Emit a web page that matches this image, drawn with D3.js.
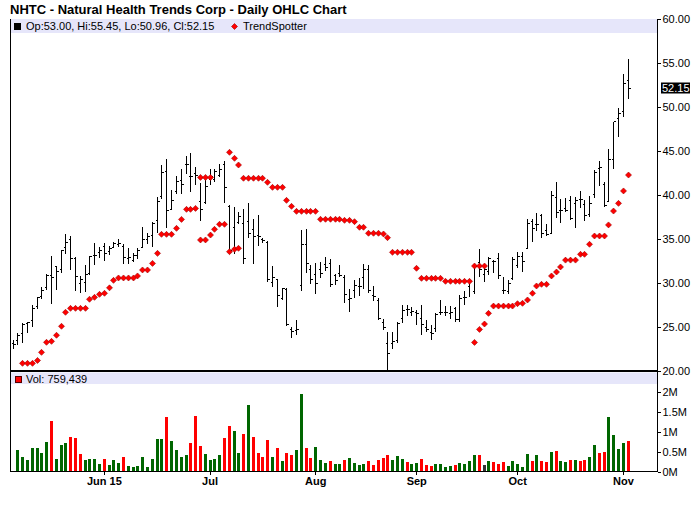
<!DOCTYPE html>
<html>
<head>
<meta charset="utf-8">
<script src="https://cdn.jsdelivr.net/npm/d3@7"></script>
<style>
	body { margin: 0; background: #fff; }
	text { font-family: "Liberation Sans", Arial, sans-serif; }
</style>
</head>
<body>
<svg id="chart" width="700" height="512"></svg>
<script>
'use strict'

const _ = null

// one entry per trading day, May 4 2015 .. Nov 3 2015
const opens = [
	23.07, 23.45, 24.3, 25.4, 25.7, 27.3, 28.5, 29.47, 30.9, 31.86,
	31.55, 34.06, 34.96, 32.8, 29.96, 30.04, 31.1, 33.07, 33.5, 34.13,
	33.56, 34.05, 34.32, 34.13, 32.8, 32.6, 33.18, 34.05, 34.96, 35.45,
	37.05, 39.81, 42.65, 38.37, 40.38, 41.7, 43.52, 42.08, 42.39, 39.24,
	39.13, 41.8, 41.78, 42.16, 43.41, 38.67, 36.3, 36.86, 36.78, 36.97,
	36.1, 35.45, 34.89, 34.6, 30.04, 30.42, 28.26, 29.28, 24.66, 24.58,
	29.66, 34.43, 31.5, 31.0, 31.5, 32.05, 32.2, 30.8, 31.1, 30.6,
	28.1, 29.2, 29.6, 30.6, 31.5, 28.6, 28.0, 25.5, 23.07, 23.1,
	23.5, 26.0, 27.0, 26.6, 26.6, 26.0, 25.0, 24.4, 24.8, 26.7,
	26.7, 26.5, 27.1, 25.8, 28.3, 29.6, 29.0, 32.3, 31.0, 31.3,
	32.4, 32.8, 29.2, 29.0, 30.5, 32.0, 33.0, 33.9, 37.0, 36.6,
	37.7, 36.0, 35.6, 39.7, 38.2, 38.5, 39.4, 39.0, 39.5, 38.9,
	37.8, 40.1, 43.0, 41.2, 39.3, 44.0, 48.7, 49.5, 53.0
]
const highs = [
	23.5, 24.3, 25.4, 25.57, 27.5, 28.45, 29.5, 31.0, 33.07, 31.93,
	33.75, 35.53, 35.34, 32.9, 30.84, 32.05, 33.11, 34.58, 34.13, 34.5,
	34.2, 34.62, 35.0, 34.43, 33.94, 33.45, 33.94, 36.33, 35.64, 36.97,
	39.81, 43.41, 44.05, 40.57, 42.16, 42.92, 44.43, 44.73, 43.22, 41.4,
	42.08, 43.0, 42.92, 43.52, 43.9, 38.9, 38.67, 38.1, 38.4, 39.13,
	37.23, 37.73, 35.08, 34.8, 31.93, 30.42, 29.47, 29.47, 25.04, 25.8,
	36.02, 36.1, 32.05, 32.24, 32.43, 32.9, 32.7, 31.0, 32.05, 30.9,
	29.28, 30.3, 30.53, 32.16, 32.05, 29.66, 28.26, 25.87, 24.47, 24.47,
	25.6, 27.5, 27.5, 27.3, 26.9, 27.5, 25.8, 25.2, 26.55, 28.06,
	27.4, 27.4, 27.3, 28.6, 29.1, 30.5, 32.2, 33.9, 32.0, 33.0,
	32.6, 33.4, 30.7, 30.3, 32.9, 33.5, 33.5, 37.3, 37.3, 37.9,
	37.8, 36.7, 40.4, 41.5, 39.6, 39.7, 39.9, 39.8, 40.4, 39.4,
	39.9, 42.8, 43.9, 41.5, 45.2, 48.3, 49.9, 53.8, 55.45
]
const lows = [
	22.5, 22.96, 23.2, 24.36, 24.96, 27.05, 28.15, 29.2, 27.58, 29.2,
	31.18, 33.3, 31.48, 29.13, 28.83, 29.0, 30.91, 32.05, 32.8, 32.5,
	33.18, 33.94, 34.05, 32.16, 32.16, 32.42, 32.69, 33.94, 34.43, 34.05,
	35.72, 39.51, 36.21, 38.3, 40.11, 40.11, 42.35, 40.38, 41.14, 37.08,
	38.98, 41.1, 41.52, 42.01, 39.05, 33.37, 33.26, 36.7, 32.16, 35.08,
	32.16, 34.2, 34.58, 30.1, 29.58, 27.31, 28.07, 25.11, 23.71, 24.09,
	29.13, 31.1, 29.9, 28.75, 30.53, 31.4, 29.6, 29.8, 30.72, 27.77,
	26.74, 28.26, 28.52, 29.36, 28.83, 28.0, 25.8, 24.66, 20.0, 22.46,
	23.2, 25.5, 26.2, 26.2, 25.2, 24.1, 24.47, 23.5, 24.47, 26.36,
	26.2, 25.9, 25.6, 25.6, 27.5, 28.4, 28.8, 30.7, 30.1, 30.9,
	31.1, 30.5, 28.7, 28.7, 30.3, 31.7, 31.2, 33.9, 34.7, 35.9,
	35.1, 35.3, 35.6, 37.4, 36.8, 38.1, 37.2, 36.2, 38.5, 37.0,
	37.5, 39.7, 41.0, 38.6, 39.3, 43.0, 46.6, 48.9, 50.96
]
const closes = [
	22.96, 23.98, 25.34, 25.5, 27.05, 28.3, 29.2, 30.9, 30.65, 31.29,
	33.64, 34.62, 32.8, 30.72, 30.42, 30.91, 32.99, 33.11, 33.75, 33.3,
	33.94, 34.5, 34.5, 32.92, 32.92, 33.07, 33.64, 34.96, 35.27, 36.78,
	39.24, 42.58, 38.22, 39.43, 41.52, 41.25, 43.52, 42.08, 42.27, 38.37,
	40.95, 42.1, 42.65, 42.92, 40.87, 33.75, 33.9, 37.6, 32.8, 35.64,
	35.27, 35.27, 34.81, 30.4, 30.65, 28.56, 29.32, 25.34, 24.47, 24.73,
	34.39, 32.16, 30.4, 29.96, 31.1, 31.8, 29.8, 30.3, 30.9, 28.75,
	28.2, 29.77, 29.6, 31.5, 29.2, 28.5, 26.0, 24.96, 22.0, 23.3,
	25.4, 26.9, 27.0, 26.8, 26.5, 25.3, 24.7, 24.3, 26.4, 26.7,
	26.6, 26.6, 25.9, 28.2, 28.4, 30.2, 31.9, 31.5, 31.5, 32.8,
	32.4, 30.8, 29.2, 29.9, 32.7, 33.0, 32.4, 36.8, 36.2, 36.6,
	35.6, 35.5, 40.0, 38.0, 38.2, 38.2, 37.3, 39.4, 39.5, 37.7,
	39.0, 42.6, 43.1, 38.8, 44.0, 48.3, 49.3, 52.7, 52.15
]

// volume in thousands of shares
const volumes = [
	_, 542, 367, 292, 592, 592, 467, 742, 1267, 317,
	667, 717, 867, 842, 442, 292, 317, 317, 192, 317,
	167, 292, 217, 367, 142, 117, 142, 367, 117, 317,
	817, 817, 1367, 767, 542, 367, 417, 717, 1392, 642,
	442, 292, 317, 417, 842, 1142, 1017, 467, 942, 1667,
	867, 467, 367, 792, 367, 592, 267, 467, 417, 542,
	1942, 592, 342, 617, 292, 217, 267, 192, 192, 292,
	342, 217, 167, 192, 267, 167, 292, 342, 417, 292,
	392, 317, 242, 192, 217, 317, 167, 142, 192, 192,
	117, 142, 167, 217, 192, 267, 417, 417, 167, 267,
	242, 192, 242, 142, 267, 192, 117, 442, 267, 417,
	267, 242, 492, 517, 267, 242, 292, 292, 267, 292,
	367, 667, 467, 492, 1367, 917, 567, 717, 759.439
]
// u = up day, d = down day, n = unchanged
const volumeDirection = (
	'uuuuuuuudu' + 'uuddduuuud' + 'uuuduuuuuu' + 'uuduuuuddd' + 'uuuudduudu' +
	'ddddududdu' + 'udduuuduud' + 'uuuudddddu' + 'uuduuddduu' + 'uuduuuudnu' +
	'ddduuuuudu' + 'dduduududd' + 'uudduuuud'
).split('')

// TrendSpotter stops, below and above price
const trendBelow = [
	_, _, 20.87, 20.87, 20.87, 21.2, 22.12, 23.26, 23.37, 24.06,
	25.08, 26.67, 27.12, 27.12, 27.12, 27.12, 28.15, 28.37, 28.71, 28.83,
	29.45, 30.3, 30.57, 30.57, 30.57, 30.57, 30.8, 31.48, 31.48, 32.23,
	33.37, 35.53, 35.53, 35.53, 36.21, 37.23, 38.37, 38.37, 38.48, 34.89,
	34.89, 35.45, 36.1, 36.67, 36.67, 33.56, 33.83, 33.94, _, _,
	_, _, _, _, _, _, _, _, _, _,
	_, _, _, _, _, _, _, _, _, _,
	_, _, _, _, _, _, _, _, _, _,
	_, _, _, _, _, _, _, _, _, _,
	_, _, _, _, _, _, 23.25, 24.73, 25.34, 26.55,
	27.38, 27.38, 27.38, 27.38, 27.38, 27.65, 27.69, 28.07, 28.83, 29.66,
	29.85, 29.85, 30.8, 31.25, 31.82, 32.6, 32.6, 32.6, 33.26, 33.26,
	34.4, 35.34, 35.34, 35.34, 36.6, 38.18, 39.05, 40.46, 42.27
]
const trendAbove = [
	_, _, _, _, _, _, _, _, _, _,
	_, _, _, _, _, _, _, _, _, _,
	_, _, _, _, _, _, _, _, _, _,
	_, _, _, _, _, _, _, _, _, 42.0,
	42.0, 42.0, _, _, _, 44.85, 44.17, 43.41, 41.9, 41.9,
	41.9, 41.9, 41.9, 41.44, 40.87, 40.87, 40.87, 39.39, 38.71, 38.14,
	38.14, 38.14, 38.14, 38.14, 37.24, 37.24, 37.24, 37.24, 37.24, 37.12,
	37.12, 36.97, 36.33, 36.33, 35.65, 35.65, 35.65, 35.57, 35.15, 33.49,
	33.49, 33.49, 33.49, 33.49, 31.67, 30.53, 30.53, 30.53, 30.53, 30.53,
	30.19, 30.19, 30.19, 30.19, 30.19, 30.19, 31.93, 31.93, 31.93, _,
	_, _, _, _, _, _, _, _, _, _,
	_, _, _, _, _, _, _, _, _, _,
	_, _, _, _, _, _, _, _, _
]

const monthTickIndex = [19, 41, 63, 84, 105, 127]
const monthTickLabels = ['Jun 15', 'Jul', 'Aug', 'Sep', 'Oct', 'Nov']
const priceTicks = [20, 25, 30, 35, 40, 45, 50, 55, 60]
const volumeTicks = [0, 500, 1000, 1500, 2000]

const frame = {left: 10.5, right: 657.5, top: 19, split: 371, bottom: 471.5}
const colors = {band: '#e6e6fa', up: '#006600', down: '#ff0000', flat: '#333333', trend: '#ff0000', trendEdge: '#a00000'}
const diamond = 'M0,-3L3,0L0,3L-3,0Z'

const svg = d3.select('#chart')
const last = closes.length - 1

const x = d3.scaleLinear().domain([0, last]).range([12.5, 627.7])
const yPrice = d3.scaleLinear().domain([20, 60]).range([frame.split, frame.top])
const yVol = d3.scaleLinear().domain([0, 2000]).range([frame.bottom, 391.5])
const px = (i) => Math.round(x(i)) + 0.5

svg.append('rect').attr('width', 700).attr('height', 512).attr('fill', '#fff')

// legend bands
svg.append('rect')
	.attr('x', frame.left).attr('y', frame.top)
	.attr('width', frame.right - frame.left).attr('height', 14)
	.attr('fill', colors.band)
svg.append('rect')
	.attr('x', frame.left).attr('y', frame.split + 1.5)
	.attr('width', frame.right - frame.left).attr('height', 11.5)
	.attr('fill', colors.band)

const bars = d3.range(closes.length)

// OHLC bars
svg.append('g')
	.attr('stroke', '#000')
	.attr('stroke-width', 1)
	.attr('fill', 'none')
	.attr('shape-rendering', 'crispEdges')
	.selectAll('path')
	.data(bars)
	.enter()
	.append('path')
	.attr('d', (i) => {
		const cx = px(i)
		return `M${cx},${yPrice(highs[i])}V${yPrice(lows[i])}` +
			`M${cx - 2},${yPrice(opens[i])}H${cx}` +
			`M${cx},${yPrice(closes[i])}H${cx + 2}`
	})

// TrendSpotter
const trendPoints = bars.filter((i) => trendBelow[i] !== null).map((i) => ({i, v: trendBelow[i]}))
	.concat(bars.filter((i) => trendAbove[i] !== null).map((i) => ({i, v: trendAbove[i]})))
svg.append('g')
	.selectAll('path')
	.data(trendPoints)
	.enter()
	.append('path')
	.attr('d', diamond)
	.attr('transform', (d) => `translate(${px(d.i)}, ${yPrice(d.v)})`)
	.attr('fill', colors.trend)
	.attr('stroke', colors.trendEdge)
	.attr('stroke-width', 0.6)

// volume
svg.append('g')
	.attr('shape-rendering', 'crispEdges')
	.selectAll('rect')
	.data(bars.filter((i) => volumes[i] !== null))
	.enter()
	.append('rect')
	.attr('x', (i) => Math.round(x(i)) - 1)
	.attr('width', 3)
	.attr('y', (i) => yVol(volumes[i]))
	.attr('height', (i) => yVol(0) - yVol(volumes[i]))
	.attr('fill', (i) => {
		if (volumeDirection[i] === 'u')
			return colors.up
		if (volumeDirection[i] === 'd')
			return colors.down
		return colors.flat
	})

// frame
const lines = svg.append('g').attr('stroke', '#000').attr('shape-rendering', 'crispEdges')
lines.append('line').attr('x1', frame.left).attr('x2', frame.left).attr('y1', frame.top).attr('y2', frame.bottom)
lines.append('line').attr('x1', frame.right).attr('x2', frame.right).attr('y1', frame.top).attr('y2', frame.bottom)
lines.append('line').attr('x1', frame.left - 0.5).attr('x2', frame.right + 0.5).attr('y1', frame.bottom).attr('y2', frame.bottom)
lines.append('line').attr('x1', frame.left - 0.5).attr('x2', frame.right + 0.5).attr('y1', frame.split).attr('y2', frame.split)
	.attr('stroke-width', 2)

// axes
const styleAxis = (g, bold) => {
	g.select('.domain').remove()
	g.selectAll('text')
		.attr('font-size', 11)
		.attr('font-weight', bold ? 'bold' : 'normal')
		.attr('font-family', '"Liberation Sans", Arial, sans-serif')
		.attr('fill', '#000')
	g.selectAll('line').attr('stroke', '#000').attr('shape-rendering', 'crispEdges')
}

svg.append('g')
	.attr('transform', `translate(${frame.right}, 0)`)
	.call(d3.axisRight(yPrice).tickValues(priceTicks).tickSize(3).tickPadding(2).tickFormat(d3.format('.2f')))
	.call((g) => styleAxis(g, false))

svg.append('g')
	.attr('transform', `translate(${frame.right}, 0)`)
	.call(d3.axisRight(yVol).tickValues(volumeTicks).tickSize(3).tickPadding(2).tickFormat((d) => `${d / 1000}M`))
	.call((g) => styleAxis(g, false))

svg.append('g')
	.attr('transform', `translate(0, ${frame.bottom})`)
	.call(d3.axisBottom(x).tickValues(monthTickIndex).tickSize(3).tickPadding(3)
		.tickFormat((d, i) => monthTickLabels[i]))
	.call((g) => styleAxis(g, true))

// last price tag
const lastY = Math.round(yPrice(closes[last]))
svg.append('rect')
	.attr('x', 661).attr('y', lastY - 5.5)
	.attr('width', 29).attr('height', 11)
	.attr('fill', '#000')
svg.append('text')
	.attr('x', 662).attr('y', lastY)
	.attr('dy', '0.36em')
	.attr('font-size', 11)
	.attr('fill', '#fff')
	.text(d3.format('.2f')(closes[last]))

// title and legends
svg.append('text')
	.attr('x', 10).attr('y', 14)
	.attr('font-size', 13)
	.attr('font-weight', 'bold')
	.text('NHTC - Natural Health Trends Corp - Daily OHLC Chart')

const f2 = d3.format('.2f')
svg.append('rect').attr('x', 14).attr('y', 23).attr('width', 7).attr('height', 7).attr('fill', '#000')
svg.append('text')
	.attr('x', 26).attr('y', 30)
	.attr('font-size', 11)
	.text(`Op:${f2(opens[last])}, Hi:${f2(highs[last])}, Lo:${f2(lows[last])}, Cl:${f2(closes[last])}`)
svg.append('path')
	.attr('d', diamond)
	.attr('transform', 'translate(234.5, 26.5)')
	.attr('fill', colors.trend)
	.attr('stroke', colors.trendEdge)
	.attr('stroke-width', 0.6)
svg.append('text')
	.attr('x', 243).attr('y', 30)
	.attr('font-size', 11)
	.text('TrendSpotter')

svg.append('rect')
	.attr('x', 15.5).attr('y', 376.5).attr('width', 6).attr('height', 6)
	.attr('fill', colors.down).attr('stroke', '#500')
svg.append('text')
	.attr('x', 26).attr('y', 383)
	.attr('font-size', 11)
	.text(`Vol: ${d3.format(',')(Math.round(volumes[last] * 1000))}`)
</script>
</body>
</html>
